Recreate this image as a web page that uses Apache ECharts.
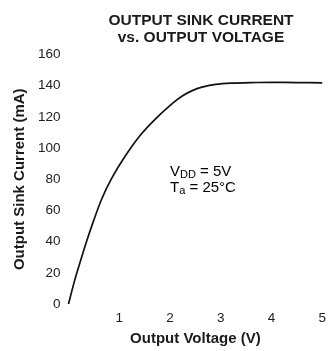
<!DOCTYPE html>
<html>
<head>
<meta charset="utf-8">
<script src="https://cdn.jsdelivr.net/npm/echarts@6/dist/echarts.min.js"></script>
<style>
  html, body { margin: 0; padding: 0; background: #fff; }
  #chart { width: 329px; height: 351px; }
</style>
</head>
<body>
<div id="chart"></div>
<script>
// Output sink current (mA) against output voltage (V), VDD = 5 V, Ta = 25 °C
const voltage = [0, 0.12, 0.24, 0.36, 0.49, 0.65, 0.85, 1.08, 1.41, 1.74, 2.06, 2.25, 2.45, 2.65, 2.9, 3.2, 3.6, 4.0, 4.5, 5.0];
const sinkCurrent = [0, 15, 28, 40.5, 53, 67, 80.5, 93, 108, 119.5, 129, 133.6, 137, 139.2, 140.8, 141.6, 142, 142.2, 142, 141.8];
const xTicks = [1, 2, 3, 4, 5];
const yTicks = [0, 20, 40, 60, 80, 100, 120, 140, 160];

const FONT = '"Liberation Sans", Arial, sans-serif';
const INK = '#1a1a1a';

const chart = echarts.init(document.getElementById('chart'));
chart.setOption({
  backgroundColor: '#ffffff',
  animation: false,
  title: {
    text: 'OUTPUT SINK CURRENT\nvs. OUTPUT VOLTAGE',
    left: 196,
    top: 7,
    textAlign: 'center',
    textStyle: { fontFamily: FONT, fontSize: 15.5, fontWeight: 'bold', color: INK, lineHeight: 17 }
  },
  grid: { left: 68.5, right: 6.5, top: 54.5, bottom: 43.5 },
  xAxis: {
    type: 'value',
    min: 0, max: 5, interval: 1,
    name: 'Output Voltage (V)',
    nameLocation: 'middle',
    nameGap: 27,
    nameTextStyle: { fontFamily: FONT, fontSize: 15, fontWeight: 'bold', color: INK },
    axisLine: { show: false },
    axisTick: { show: false },
    splitLine: { show: false },
    axisLabel: {
      fontFamily: FONT, fontSize: 13.5, color: '#222', margin: 7.5,
      formatter: v => (xTicks.includes(v) ? String(v) : '')
    }
  },
  yAxis: {
    type: 'value',
    min: 0, max: 160, interval: 20,
    name: 'Output Sink Current (mA)',
    nameLocation: 'middle',
    nameGap: 41,
    nameTextStyle: { fontFamily: FONT, fontSize: 15, fontWeight: 'bold', color: INK },
    axisLine: { show: false },
    axisTick: { show: false },
    splitLine: { show: false },
    axisLabel: {
      fontFamily: FONT, fontSize: 13.5, color: '#222', margin: 8,
      formatter: v => (yTicks.includes(v) ? String(v) : '')
    }
  },
  graphic: [{
    type: 'text',
    left: 170,
    top: 163,
    style: {
      text: '{m|V}{s|DD}{m| = 5V}\n{m|T}{s|a}{m| = 25°C}',
      rich: {
        m: { fontFamily: FONT, fontSize: 15, color: '#222', lineHeight: 16.5 },
        s: { fontFamily: FONT, fontSize: 11, color: '#222', padding: [6, 0, 0, 0], lineHeight: 16.5 }
      }
    }
  }],
  series: [{
    type: 'line',
    data: voltage.map((v, i) => [v, sinkCurrent[i]]),
    smooth: 0.25,
    showSymbol: false,
    lineStyle: { color: '#111', width: 1.7 }
  }]
});
</script>
</body>
</html>
